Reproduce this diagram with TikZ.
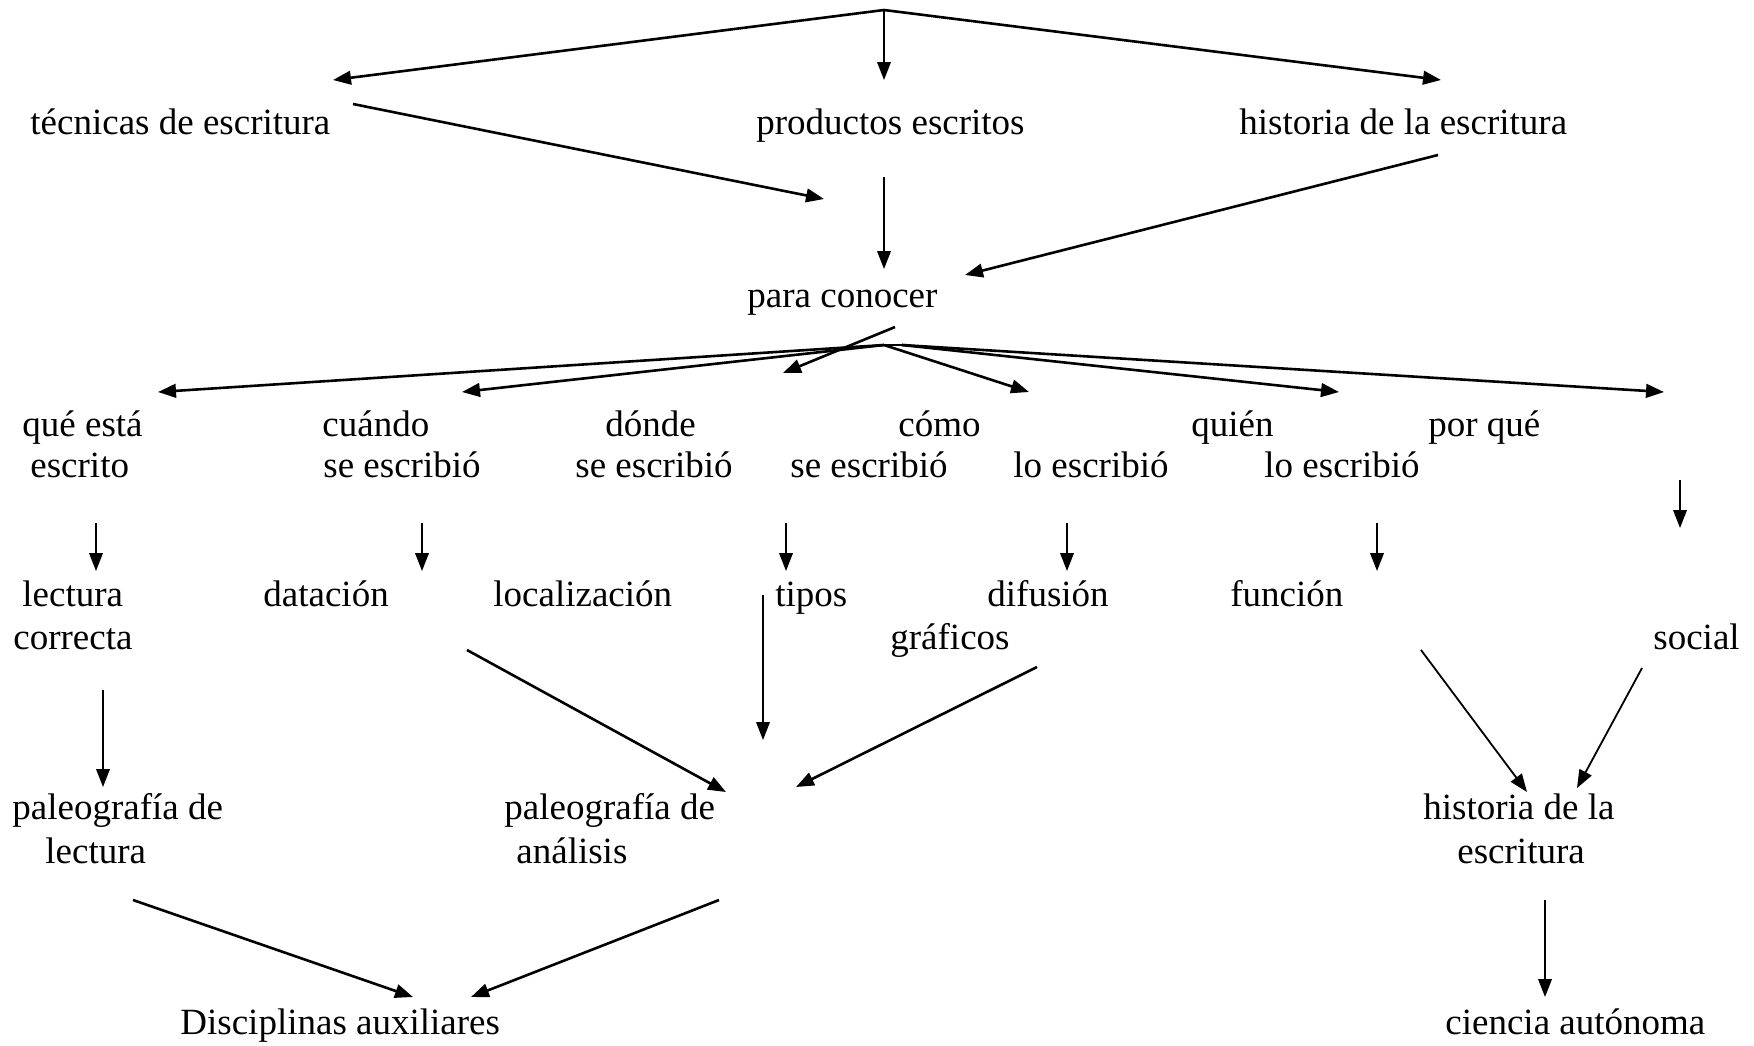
\documentclass[tikz,border=0pt]{standalone}
\usepackage{fontspec}
\setmainfont{Liberation Serif}
\usetikzlibrary{arrows.meta}
\tikzset{
  lbl/.style={anchor=base west, inner sep=0pt, font=\fontsize{18.5}{21}\selectfont},
  con/.style={-{Triangle[length=9pt,width=6.8pt]}, line width=1.3pt},
  conthin/.style={-{Triangle[length=9pt,width=6.8pt]}, line width=0.9pt}
}
\begin{document}
\begin{tikzpicture}[x=0.5pt,y=-0.5pt]
\useasboundingbox (0,0) rectangle (1754,1045);
% texts
\node[lbl] (tec) at (30,134) {técnicas de escritura};
\node[lbl] (prod) at (756,134) {productos escritos};
\node[lbl] (hist) at (1239,134) {historia de la escritura};
\node[lbl] (para) at (747,307) {para conocer};
\node[lbl] (que1) at (22,436) {qué está};
\node[lbl] (que2) at (30,477.5) {escrito};
\node[lbl] (cuan1) at (322,436) {cuándo};
\node[lbl] (cuan2) at (323,477.5) {se escribió};
\node[lbl] (don1) at (605,436) {dónde};
\node[lbl] (don2) at (575,477.5) {se escribió};
\node[lbl] (com1) at (898,436) {cómo};
\node[lbl] (com2) at (790,477.5) {se escribió};
\node[lbl] (qui1) at (1191,436) {quién};
\node[lbl] (qui2) at (1013,477.5) {lo escribió};
\node[lbl] (por1) at (1428,436) {por qué};
\node[lbl] (por2) at (1264,477.5) {lo escribió};
\node[lbl] (lec1) at (22,606) {lectura};
\node[lbl] (lec2) at (13,649.5) {correcta};
\node[lbl] (dat) at (263,606) {datación};
\node[lbl] (loc) at (493,606) {localización};
\node[lbl] (tip) at (775,606) {tipos};
\node[lbl] (gra) at (890,649.5) {gráficos};
\node[lbl] (dif) at (987,606) {difusión};
\node[lbl] (fun) at (1230,606) {función};
\node[lbl] (soc) at (1653,649.5) {social};
\node[lbl] (pl1) at (12,819.5) {paleografía de};
\node[lbl] (pl2) at (45,863.5) {lectura};
\node[lbl] (pa1) at (504,819.5) {paleografía de};
\node[lbl] (pa2) at (516,863.5) {análisis};
\node[lbl] (hs1) at (1423,819.5) {historia de la};
\node[lbl] (hs2) at (1457,863.5) {escritura};
\node[lbl] (dis) at (180,1034.5) {Disciplinas auxiliares};
\node[lbl] (cie) at (1445,1034.5) {ciencia autónoma};
% coordinates
\coordinate (top) at (884,10);
\coordinate (tecE) at (333,80);
\coordinate (prodE) at (884,80);
\coordinate (histE) at (1441,80);
\coordinate (tecS) at (353,104);
\coordinate (tecT) at (824,199);
\coordinate (prodS) at (884,177);
\coordinate (prodT) at (884,269);
\coordinate (histS) at (1438,155);
\coordinate (histT) at (965,275);
\coordinate (paraS) at (895,327);
\coordinate (paraT) at (783,373);
\coordinate (o1) at (884,345);
\coordinate (o2) at (902,345);
\coordinate (queE) at (158,392);
\coordinate (cuanE) at (462,392);
\coordinate (comE) at (1029,392);
\coordinate (quiE) at (1339,392);
\coordinate (porE) at (1664,392);
\coordinate (c1s) at (96,523);  \coordinate (c1t) at (96,571);
\coordinate (c2s) at (422,523); \coordinate (c2t) at (422,571);
\coordinate (c3s) at (786,523); \coordinate (c3t) at (786,571);
\coordinate (c4s) at (1067,523);\coordinate (c4t) at (1067,571);
\coordinate (c5s) at (1377,523);\coordinate (c5t) at (1377,571);
\coordinate (c6s) at (1680,480);\coordinate (c6t) at (1680,528);
\coordinate (gs) at (103,690);  \coordinate (gt) at (103,787);
\coordinate (hs) at (763,595);  \coordinate (ht) at (763,740);
\coordinate (is) at (467,650);  \coordinate (it) at (726,792);
\coordinate (js) at (1037,667); \coordinate (jt) at (796,787);
\coordinate (ks) at (1421,650); \coordinate (kt) at (1527,792);
\coordinate (ls) at (1642,668); \coordinate (lt) at (1577,788);
\coordinate (ms) at (1545,900); \coordinate (mt) at (1545,997);
\coordinate (ns) at (133,900);  \coordinate (nt) at (413,997);
\coordinate (os) at (719,900);  \coordinate (ot) at (471,997);
% connectors
\draw[con] (top) -- (tecE);
\draw[conthin] (top) -- (prodE);
\draw[con] (top) -- (histE);
\draw[con] (tecS) -- (tecT);
\draw[conthin] (prodS) -- (prodT);
\draw[con] (histS) -- (histT);
\draw[con] (paraS) -- (paraT);
\draw[line width=1.3pt] (o1) -- (o2);
\draw[con] (o1) -- (queE);
\draw[con] (o1) -- (cuanE);
\draw[con] (o1) -- (comE);
\draw[con] (o2) -- (quiE);
\draw[con] (o2) -- (porE);
\draw[conthin] (c1s) -- (c1t);
\draw[conthin] (c2s) -- (c2t);
\draw[conthin] (c3s) -- (c3t);
\draw[conthin] (c4s) -- (c4t);
\draw[conthin] (c5s) -- (c5t);
\draw[conthin] (c6s) -- (c6t);
\draw[conthin] (gs) -- (gt);
\draw[conthin] (hs) -- (ht);
\draw[con] (is) -- (it);
\draw[con] (js) -- (jt);
\draw[conthin] (ks) -- (kt);
\draw[conthin] (ls) -- (lt);
\draw[conthin] (ms) -- (mt);
\draw[con] (ns) -- (nt);
\draw[con] (os) -- (ot);
\end{tikzpicture}
\end{document}
